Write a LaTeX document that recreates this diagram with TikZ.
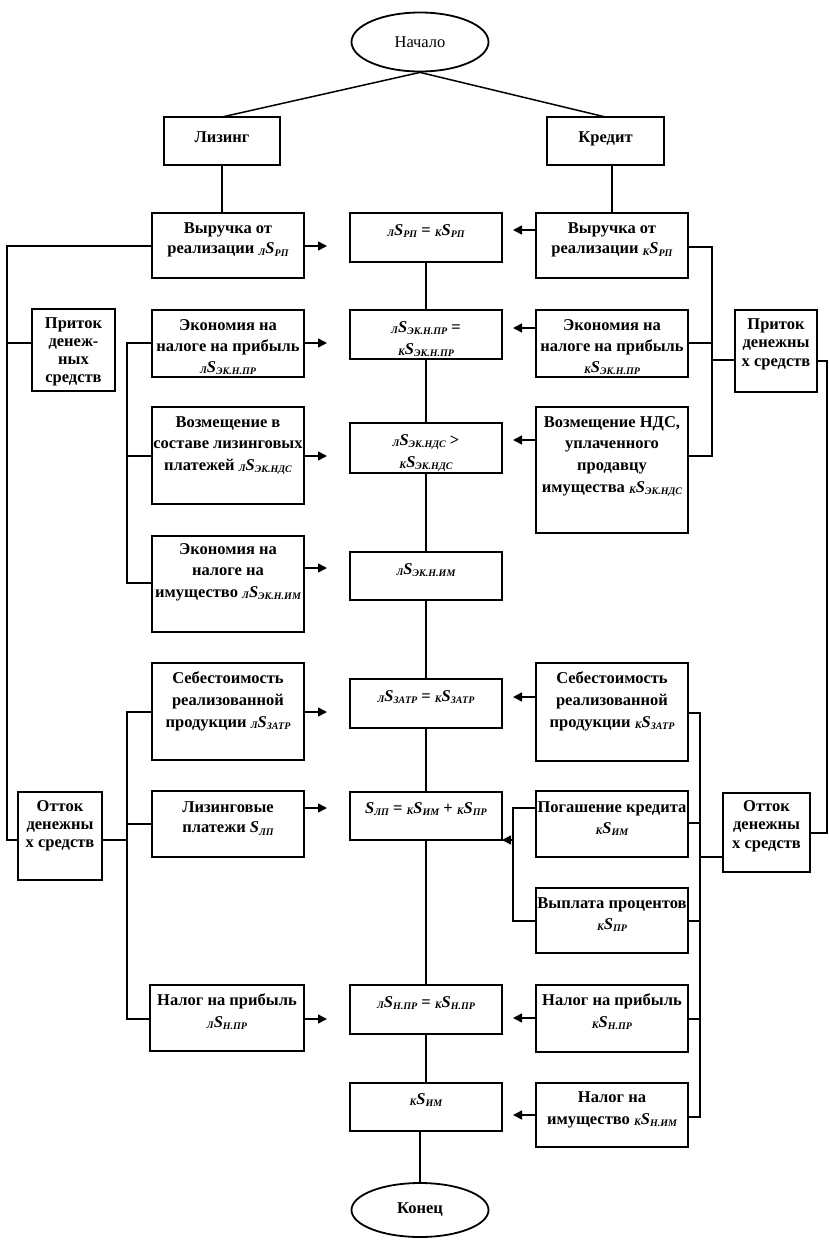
\documentclass[tikz,border=0pt]{standalone}
\usepackage{fontspec}
\setmainfont{Liberation Serif}
\usetikzlibrary{arrows.meta,shapes.geometric}
\newcommand{\subf}{\fontsize{10}{10}\selectfont\itshape}
\newcommand{\Sx}[2]{{\subf\raisebox{-0.4ex}{#1}}\textit{S}{\subf\raisebox{-0.55ex}{#2}}}
\newcommand{\bxt}[5]{\parbox[t][#2pt][t]{#1pt}{\fontsize{16.5}{#4}\selectfont\bfseries\centering\rule{0pt}{#3pt}#5\par}}
\begin{document}
\begin{tikzpicture}[x=1pt,y=-1pt,
  box/.style={draw,line width=1.8pt,inner sep=0pt,outer sep=0pt,anchor=north west,rectangle},
  ell/.style={draw,line width=1.8pt,ellipse,inner sep=0pt,font=\fontsize{16.5}{20}\selectfont},
  ln/.style={line width=1.5pt},
  arr/.style={line width=1.5pt,-{Triangle[length=9pt,width=9pt]}}]
\useasboundingbox (0,0) rectangle (828,1242);

% start / end
\node[ell,minimum width=137pt,minimum height=59pt] (start) at (420,42) {Начало};
\node[ell,minimum width=137pt,minimum height=54pt,font=\fontsize{16.5}{20}\selectfont\bfseries] (end) at (420,1210) {Конец};

% top
\node[box] (lz) at (164,117) {\bxt{116}{48}{25}{20}{Лизинг}};
\node[box] (kr) at (547,117) {\bxt{117}{48}{25}{20}{Кредит}};

% left column
\node[box] (L1) at (152,213) {\bxt{152}{65}{20}{20.5}{Выручка от\\реализации \Sx{Л}{РП}}};
\node[box] (L2) at (152,310) {\bxt{152}{67}{20}{21}{Экономия на\\налоге на прибыль\\\Sx{Л}{ЭК.Н.ПР}}};
\node[box] (L3) at (152,407) {\bxt{152}{97}{20}{21.5}{Возмещение в\\составе лизинговых\\платежей \Sx{Л}{ЭК.НДС}}};
\node[box] (L4) at (152,536) {\bxt{152}{96}{18}{21.5}{Экономия на\\налоге на\\имущество \Sx{Л}{ЭК.Н.ИМ}}};
\node[box] (L5) at (152,663) {\bxt{152}{97}{20}{22}{Себестоимость\\реализованной\\продукции \Sx{Л}{ЗАТР}}};
\node[box] (L6) at (152,791) {\bxt{152}{66}{21}{20.5}{Лизинговые\\платежи \Sx{}{ЛП}}};
\node[box] (L7) at (150,985) {\bxt{154}{66}{20}{22}{Налог на прибыль\\\Sx{Л}{Н.ПР}}};

% center column
\node[box] (C1) at (350,213) {\bxt{152}{49}{22}{21}{\Sx{Л}{РП} = \Sx{К}{РП}}};
\node[box] (C2) at (350,310) {\bxt{152}{49}{22}{22}{\Sx{Л}{ЭК.Н.ПР} =\\\Sx{К}{ЭК.Н.ПР}}};
\node[box] (C3) at (350,423) {\bxt{152}{50}{22}{22}{\Sx{Л}{ЭК.НДС} >\\\Sx{К}{ЭК.НДС}}};
\node[box] (C4) at (350,552) {\bxt{152}{48}{22}{21}{\Sx{Л}{ЭК.Н.ИМ}}};
\node[box] (C5) at (350,679) {\bxt{152}{49}{22}{21}{\Sx{Л}{ЗАТР} = \Sx{К}{ЗАТР}}};
\node[box] (C6) at (350,792) {\bxt{152}{48}{21}{21}{\Sx{}{ЛП} = \Sx{К}{ИМ} + \Sx{К}{ПР}}};
\node[box] (C7) at (350,985) {\bxt{152}{49}{22}{21}{\Sx{Л}{Н.ПР} = \Sx{К}{Н.ПР}}};
\node[box] (C8) at (350,1083) {\bxt{152}{48}{21}{21}{\Sx{К}{ИМ}}};

% right column
\node[box] (R1) at (536,213) {\bxt{152}{65}{20}{20.5}{Выручка от\\реализации \Sx{К}{РП}}};
\node[box] (R2) at (536,310) {\bxt{152}{67}{20}{21}{Экономия на\\налоге на прибыль\\\Sx{К}{ЭК.Н.ПР}}};
\node[box] (R3) at (536,407) {\bxt{152}{126}{20}{21.7}{Возмещение НДС,\\уплаченного\\продавцу\\имущества \Sx{К}{ЭК.НДС}}};
\node[box] (R4) at (536,663) {\bxt{152}{98}{20}{22}{Себестоимость\\реализованной\\продукции \Sx{К}{ЗАТР}}};
\node[box] (R5) at (536,791) {\bxt{152}{66}{21}{21}{Погашение кредита\\\Sx{К}{ИМ}}};
\node[box] (R6) at (536,888) {\bxt{152}{65}{20}{21}{Выплата процентов\\\Sx{К}{ПР}}};
\node[box] (R7) at (536,985) {\bxt{152}{67}{20}{22}{Налог на прибыль\\\Sx{К}{Н.ПР}}};
\node[box] (R8) at (536,1083) {\bxt{152}{64}{19}{22}{Налог на\\имущество \Sx{К}{Н.ИМ}}};

% side boxes
\node[box] (PL) at (32,309) {\bxt{83}{82}{19}{18}{Приток\\денеж-\\ных\\средств}};
\node[box] (PR) at (735,310) {\bxt{82}{82}{19}{18.5}{Приток\\денежны\\х средств}};
\node[box] (OL) at (18,792) {\bxt{84}{88}{19}{18}{Отток\\денежны\\х средств}};
\node[box] (OR) at (723,793) {\bxt{87}{79}{18}{18.5}{Отток\\денежны\\х средств}};

% top connectors
\draw[ln] (start.south) -- (lz.north);
\draw[ln] (start.south) -- (kr.north);
\draw[ln] (lz.south) -- (lz.south |- L1.north);
\draw[ln] (R1.north |- kr.south) -- (R1.north);

% center trunk
\draw[ln] (C1.south) -- (C2.north);
\draw[ln] (C2.south) -- (C3.north);
\draw[ln] (C3.south) -- (C4.north);
\draw[ln] (C4.south) -- (C5.north);
\draw[ln] (C5.south) -- (C6.north);
\draw[ln] (C6.south) -- (C7.north);
\draw[ln] (C7.south) -- (C8.north);
\draw[ln] (end.north |- C8.south) -- (end.north);

% left outer line (inflow + outflow)
\draw[ln] (L1.west |- 0,246) -| (7,840) -- (OL.west |- 0,840);
\draw[ln] (7,343) -- (PL.west |- 0,343);
% left inflow group
\draw[ln] (L2.west |- 0,343) -| (127,583) -- (L4.west |- 0,583);
\draw[ln] (127,456) -- (L3.west |- 0,456);
% left outflow group
\draw[ln] (L5.west |- 0,712) -| (127,1019) -- (L7.west |- 0,1019);
\draw[ln] (127,824) -- (L6.west |- 0,824);
\draw[ln] (OL.east |- 0,840) -- (127,840);

% right inflow group
\draw[ln] (R1.east |- 0,247) -| (712,456) -- (R3.east |- 0,456);
\draw[ln] (R2.east |- 0,343) -- (712,343);
\draw[ln] (712,360) -- (PR.west |- 0,360);
% right outer line
\draw[ln] (PR.east |- 0,361) -| (827,833) -- (OR.east |- 0,833);
% right outflow group
\draw[ln] (R4.east |- 0,713) -| (700,1117) -- (R8.east |- 0,1117);
\draw[ln] (R5.east |- 0,823) -- (700,823);
\draw[ln] (OR.west |- 0,857) -- (700,857);
\draw[ln] (R6.east |- 0,921) -- (700,921);
\draw[ln] (R7.east |- 0,1019) -- (700,1019);

% R5/R6 to C6
\draw[ln] (R5.west |- 0,808) -| (513,921) -- (R6.west |- 0,921);
\draw[arr] (513,840) -- (C6.south east);

% left arrows
\draw[arr] (L1.east |- 0,246) -- ++(23,0);
\draw[arr] (L2.east |- 0,343) -- ++(23,0);
\draw[arr] (L3.east |- 0,456) -- ++(23,0);
\draw[arr] (L4.east |- 0,568) -- ++(23,0);
\draw[arr] (L5.east |- 0,712) -- ++(23,0);
\draw[arr] (L6.east |- 0,808) -- ++(23,0);
\draw[arr] (L7.east |- 0,1019) -- ++(23,0);

% right arrows
\draw[arr] (R1.west |- 0,230) -- ++(-23,0);
\draw[arr] (R2.west |- 0,328) -- ++(-23,0);
\draw[arr] (R3.west |- 0,440) -- ++(-23,0);
\draw[arr] (R4.west |- 0,697) -- ++(-23,0);
\draw[arr] (R7.west |- 0,1018) -- ++(-23,0);
\draw[arr] (R8.west |- 0,1115) -- ++(-23,0);
\end{tikzpicture}
\end{document}
